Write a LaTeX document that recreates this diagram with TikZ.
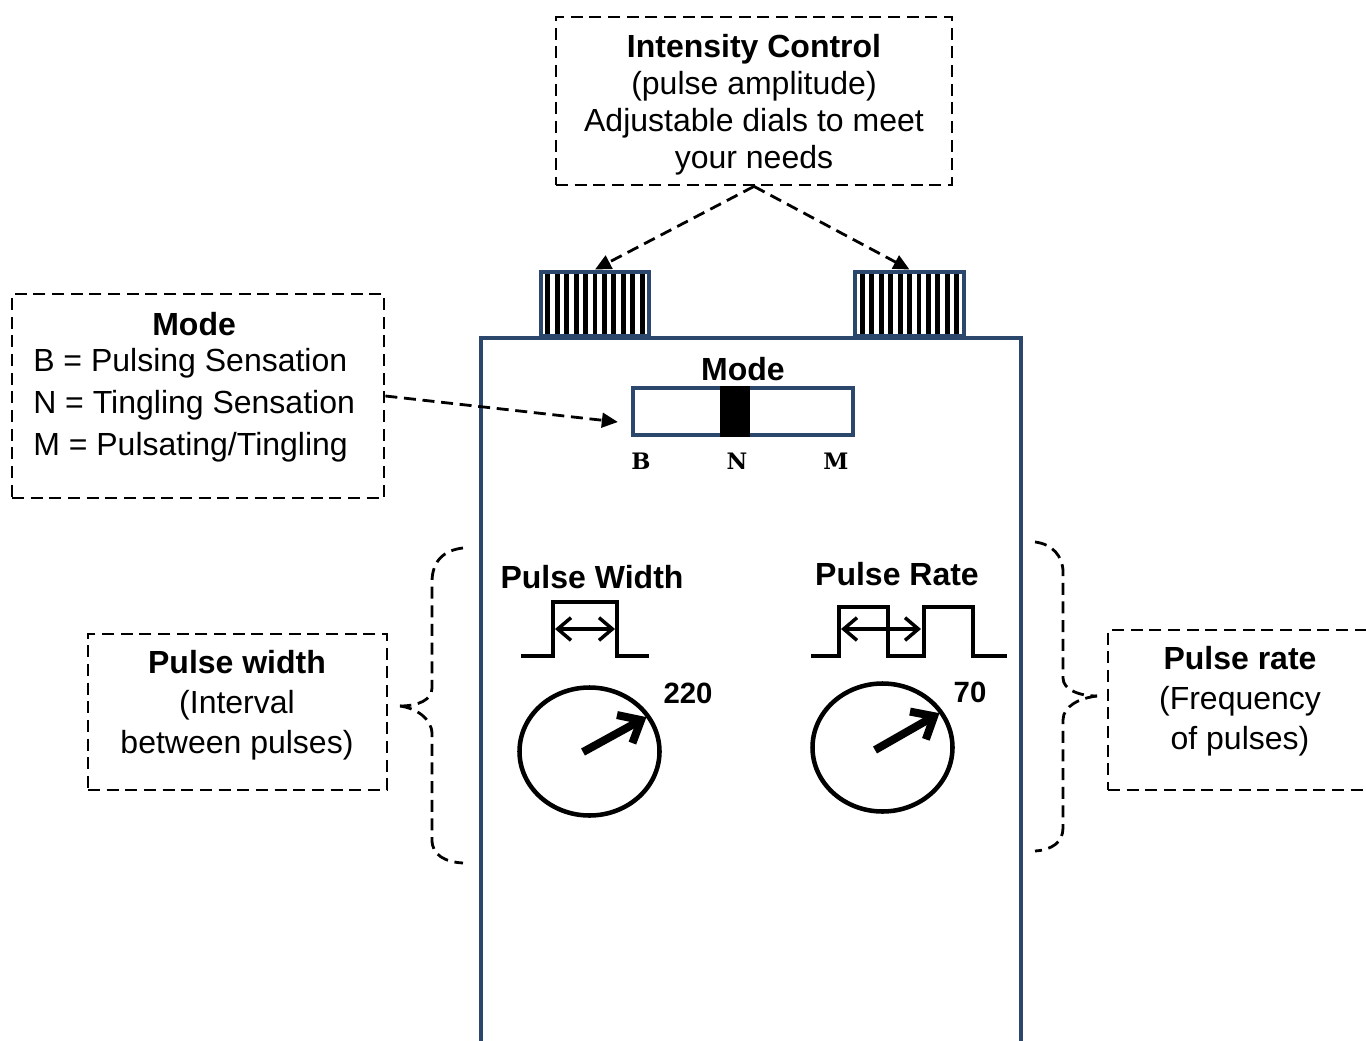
\documentclass[tikz,border=0pt]{standalone}
\usepackage{fontspec}
\setmainfont{Liberation Sans}
\newfontfamily\slabfont{DejaVu Serif}
\usetikzlibrary{arrows.meta,shapes.geometric}
\definecolor{navy}{RGB}{44,71,108}
\tikzset{
  txt/.style={font=\fontsize{24}{30}\selectfont, inner sep=0pt},
  dbox/.style={draw, dash pattern=on 9pt off 5pt, line width=2.1pt, inner sep=0pt},
  dasharrow/.style={dash pattern=on 9pt off 5pt, line width=2.1pt, -{Triangle[length=12pt,width=11pt]}},
  dbrace/.style={dash pattern=on 9pt off 5pt, line width=2.1pt},
  body/.style={draw=navy, line width=3.2pt},
  knob/.style={draw=navy, line width=3.2pt, fill=white, minimum width=81.5pt, minimum height=48.5pt, inner sep=0pt,
    path picture={\foreach \i in {0,...,10}
      \fill[black] ([xshift={3.4pt+\i*7.1pt}]path picture bounding box.south west) rectangle ([xshift={7.1pt+\i*7.1pt}]path picture bounding box.north west);}},
  wave/.style={line width=3.4pt},
  span/.style={line width=2.6pt, {Straight Barb[length=10pt,width=17pt]}-{Straight Barb[length=10pt,width=17pt]}},
  dial/.style={draw, ellipse, line width=3.4pt, minimum width=105pt, minimum height=96pt, inner sep=0pt},
  needle/.style={line width=6pt, -{Straight Barb[length=14pt,width=24pt]}, shorten >=3pt},
  letter/.style={font=\slabfont\bfseries\fontsize{17}{20}\selectfont, inner sep=0pt}
}
\begin{document}
\begin{tikzpicture}[x=0.75pt,y=-0.75pt]
\useasboundingbox (0,0) rectangle (1366,1041);
\clip (0,0) rectangle (1366,1041);

% device body
\draw[body] (481,1060) -- (481,338) -- (1021,338) -- (1021,1060);

% intensity dials
\node[knob] (knobl) at (595,304) {};
\node[knob] (knobr) at (909.5,304) {};

\node[dbox, minimum width=297pt, minimum height=126pt] (intbox) at (754,101) {};
\node[txt, align=center, font=\fontsize{24}{27.75}\selectfont] (inttxt) at (754,105)
  {\textbf{Intensity Control}\\(pulse amplitude)\\Adjustable dials to meet\\your needs};
\draw[dasharrow] (intbox.south) -- (knobl.north);
\draw[dasharrow] (intbox.south) -- (knobr.north);

% mode switch
\node[txt, font=\bfseries\fontsize{24}{30}\selectfont] (modelbl) at (743,369) {Mode};
\node[draw=navy, line width=3.2pt, minimum width=165pt, minimum height=35pt, inner sep=0pt] (switch) at (743,411.5) {};
\node[fill=black, minimum width=22.5pt, minimum height=38.25pt, inner sep=0pt] (slider) at (735,411.5) {};
\node[letter] (lb) at (641,461) {B};
\node[letter] (ln) at (737,461) {N};
\node[letter] (lm) at (836,461) {M};

\node[dbox, minimum width=279pt, minimum height=153pt] (modebox) at (198,396) {};
\node[txt, font=\fontsize{24}{31.5}\selectfont, anchor=west] (modetxt) at (33,387)
  {\begin{tabular}{@{}l@{}}\multicolumn{1}{@{}c@{}}{\textbf{Mode}}\\[-4pt]B = Pulsing Sensation\\N = Tingling Sensation\\M = Pulsating/Tingling\end{tabular}};
\draw[dasharrow] (modebox.east) -- ([shift={(-13,10.5)}]switch.west);

% pulse width
\node[txt, font=\bfseries\fontsize{24}{30}\selectfont] (pwlbl) at (592,577) {Pulse Width};
\draw[wave] (521,656) -- (553,656) -- (553,602) -- (617,602) -- (617,656) -- (649,656);
\coordinate (pwa) at (555,629);
\coordinate (pwb) at (615,629);
\draw[span] (pwa) -- (pwb);

\node[dial] (dialw) at (589.5,751.5) {};
\coordinate (wpivot) at (583,752);
\draw[needle] (wpivot) -- (dialw.31);
\node[txt, font=\bfseries\fontsize{22}{26}\selectfont] (wval) at (688,693) {220};

% pulse rate
\node[txt, font=\bfseries\fontsize{24}{30}\selectfont] (prlbl) at (897,574) {Pulse Rate};
\draw[wave] (811,656) -- (839,656) -- (839,607) -- (888,607) -- (888,656) -- (924,656)
  -- (924,607) -- (973,607) -- (973,656) -- (1007,656);
\coordinate (pra) at (841,629);
\coordinate (prb) at (921,629);
\draw[span] (pra) -- (prb);

\node[dial] (dialr) at (882.5,747.5) {};
\coordinate (rpivot) at (875,750);
\draw[needle] (rpivot) -- (dialr.31);
\node[txt, font=\bfseries\fontsize{22}{26}\selectfont] (rval) at (970,692) {70};

% side notes
\node[dbox, minimum width=224.25pt, minimum height=117pt] (pwbox) at (237.5,712) {};
\node[txt, align=center] (pwtxt) at (237,705) {\textbf{Pulse width}\\(Interval\\between pulses)};
\draw[dbrace] (463,548) .. controls (445,550) and (432,560) .. (432,582) -- (432,688)
  .. controls (432,700) and (418,706) .. (400,706);
\draw[dbrace] (400,706) .. controls (415,708) and (432,718) .. (432,734) -- (432,840)
  .. controls (432,855) and (445,862) .. (463,863);

\node[dbox, minimum width=198pt, minimum height=120pt] (prbox) at (1240,710) {};
\node[txt, align=center] (prtxt) at (1240,701) {\textbf{Pulse rate}\\(Frequency\\of pulses)};
\draw[dbrace] (1035,542) .. controls (1052,544) and (1063,556) .. (1063,572) -- (1063,678)
  .. controls (1063,690) and (1080,696) .. (1097,696);
\draw[dbrace] (1097,696) .. controls (1080,698) and (1063,706) .. (1063,720) -- (1063,828)
  .. controls (1063,842) and (1052,850) .. (1035,851);
\end{tikzpicture}
\end{document}
